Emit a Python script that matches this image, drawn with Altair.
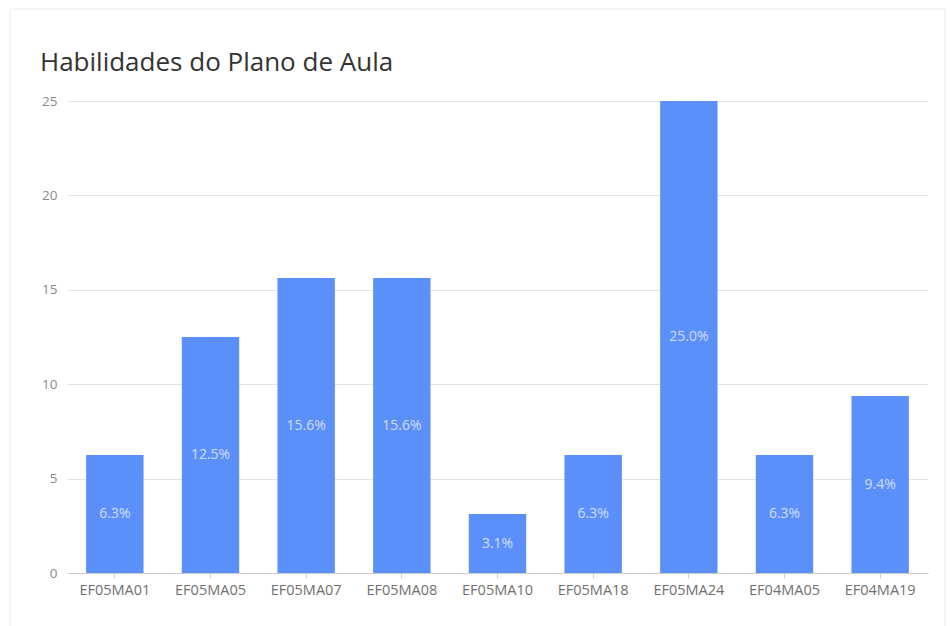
import altair as alt
import pandas as pd

categories = ["EF05MA01", "EF05MA05", "EF05MA07", "EF05MA08", "EF05MA10",
              "EF05MA18", "EF05MA24", "EF04MA05", "EF04MA19"]
values = [6.25, 12.5, 15.625, 15.625, 3.125, 6.25, 25.0, 6.25, 9.375]

df = pd.DataFrame({"cat": categories, "value": values})

FONT = "Open Sans"

base = alt.Chart(df).encode(
    x=alt.X("cat:N", sort=categories, title=None,
            scale=alt.Scale(paddingInner=0.4, paddingOuter=0.2),
            axis=alt.Axis(labelAngle=0, labelFontSize=14.5, labelColor="#707070",
                          labelFont=FONT, domainColor="#cccccc", tickColor="#cccccc",
                          tickSize=5, labelPadding=5, grid=False)),
)

bars = base.mark_bar(color="#5B8FF9").encode(
    y=alt.Y("value:Q", title=None,
            scale=alt.Scale(domain=[0, 25], nice=False),
            axis=alt.Axis(values=[0, 5, 10, 15, 20, 25], labelFontSize=13.5,
                          labelColor="#8a8a8a", labelFont=FONT, domain=False,
                          ticks=False, labelPadding=10, gridColor="#e3e3e3")),
)

labels = base.transform_calculate(
    label="format(datum.value, '.1f') + '%'",
    mid="datum.value / 2",
).mark_text(color="#ffffff", opacity=0.7, fontSize=14, font=FONT,
            baseline="middle").encode(
    y=alt.Y("mid:Q"),
    text="label:N",
)

card = alt.Chart(df).mark_rect(fill=None, stroke="#ebebeb", strokeWidth=1).encode(
    x=alt.value(-57), x2=alt.value(878), y=alt.value(-92), y2=alt.value(540)
).transform_filter("datum.cat == 'EF05MA01'")

chart = alt.layer(card, bars, labels).properties(
    width=861,
    height=472,
    title=alt.TitleParams("Habilidades do Plano de Aula", anchor="start",
                          frame="group", fontSize=26, font=FONT,
                          fontWeight="normal", color="#333333", dx=-27,
                          offset=-67),
    autosize=alt.AutoSizeParams(type="none"),
    padding={"left": 67, "top": 101, "right": 22, "bottom": 53},
    background="white",
).configure_view(stroke=None)

chart.save("out.html", embed_options={"renderer": "svg", "actions": False})
